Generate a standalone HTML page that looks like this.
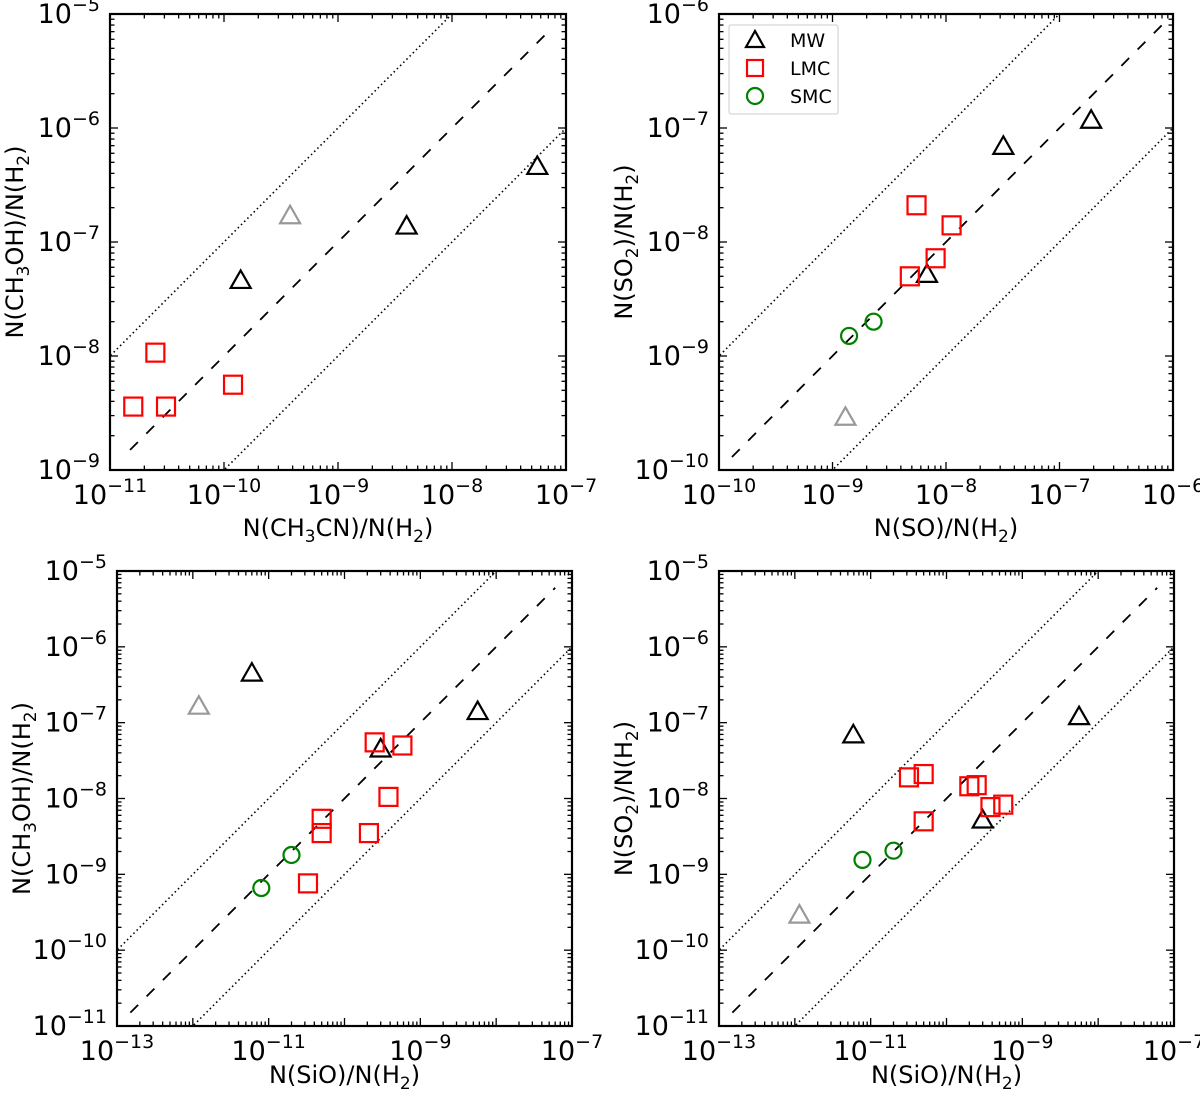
<!DOCTYPE html>
<html><head><meta charset="utf-8">
<style>
html,body{margin:0;padding:0;background:#fff;overflow:hidden;width:1200px;height:1098px;}
svg{display:block;font-family:"DejaVu Sans","Liberation Sans",sans-serif;}
</style></head>
<body>
<svg id="fig" width="1200" height="1098" viewBox="0 0 1200 1098" xmlns="http://www.w3.org/2000/svg" overflow="hidden"></svg>
<script>
// ---- Data arrays ----
// Panel A: CH3CN vs CH3OH
const aMWx=[1.4e-10,4e-9,5.6e-8];
const aMWy=[4.6e-8,1.38e-7,4.6e-7];
const aMWgx=[3.8e-10];
const aMWgy=[1.7e-7];
const aLMCx=[1.6e-11,2.5e-11,3.1e-11,1.2e-10];
const aLMCy=[3.6e-9,1.07e-8,3.6e-9,5.6e-9];
const aSMCx=[];
const aSMCy=[];
// Panel B: SO vs SO2
const bMWx=[6.8e-9,3.2e-8,1.9e-7];
const bMWy=[5.2e-9,6.9e-8,1.17e-7];
const bMWgx=[1.3e-9];
const bMWgy=[2.9e-10];
const bLMCx=[5.5e-9,1.12e-8,8.1e-9,4.8e-9];
const bLMCy=[2.1e-8,1.4e-8,7.2e-9,5e-9];
const bSMCx=[1.4e-9,2.3e-9];
const bSMCy=[1.5e-9,2e-9];
// Panel C: SiO vs CH3OH
const cMWx=[6e-12,3e-10,5.7e-9];
const cMWy=[4.5e-7,4.5e-8,1.4e-7];
const cMWgx=[1.2e-12];
const cMWgy=[1.65e-7];
const cLMCx=[2.5e-10,5.8e-10,5e-11,5e-11,2.1e-10,3.8e-10,3.3e-11];
const cLMCy=[5.5e-8,5e-8,5.4e-9,3.5e-9,3.5e-9,1.05e-8,7.6e-10];
const cSMCx=[8e-12,2e-11];
const cSMCy=[6.6e-10,1.8e-9];
// Panel D: SiO vs SO2
const dMWx=[5.9e-12,3e-10,5.6e-9];
const dMWy=[6.9e-8,5.2e-9,1.2e-7];
const dMWgx=[1.15e-12];
const dMWgy=[2.9e-10];
const dLMCx=[3.2e-11,5e-11,2e-10,2.5e-10,3.8e-10,5.6e-10,5e-11];
const dLMCy=[1.9e-8,2.1e-8,1.45e-8,1.5e-8,7.7e-9,8.3e-9,5e-9];
const dSMCx=[7.8e-12,2e-11];
const dSMCy=[1.55e-9,2.05e-9];
// axis ranges (log10 exponents)
const aXr=[-11,-7], aYr=[-9,-5];
const bXr=[-10,-6], bYr=[-10,-6];
const cXr=[-13,-7], cYr=[-11,-5];
const dXr=[-13,-7], dYr=[-11,-5];
// relation factors: dashed, upper dotted, lower dotted
const aRel=[100,1000,10], bRel=[1,10,0.1], cRel=[100,1000,10], dRel=[100,1000,10];
const aDash=[1.5e-11,6.5e-8], bDash=[1.3e-10,8.5e-7], cDash=[1.5e-13,6e-8], dDash=[1.5e-13,6e-8];

const NS="http://www.w3.org/2000/svg";
const svg=document.getElementById('fig');
function mk(tag,attrs,parent){const e=document.createElementNS(NS,tag);for(const k in attrs)e.setAttribute(k,attrs[k]);(parent||svg).appendChild(e);return e;}

function panel(id,box,xr,yr,xt,ytParts,data,rel,dash,xlabStep,legend){
  const [L,T,R,B]=box;
  const g=mk('g',{});
  
  
  const X=v=>L+(Math.log10(v)-xr[0])/(xr[1]-xr[0])*(R-L);
  const Y=v=>B-(Math.log10(v)-yr[0])/(yr[1]-yr[0])*(B-T);
  const cid='clip-'+id;
  const cp=mk('clipPath',{id:cid},g);mk('rect',{x:L,y:T,width:R-L,height:B-T},cp);
  const lines=mk('g',{'clip-path':'url(#'+cid+')'},g);
  [rel[1],rel[2]].forEach((f,i)=>{
    const x0=Math.pow(10,xr[0]-1),x1=Math.pow(10,xr[1]+1);
    const l=mk('line',{x1:X(x0),y1:Y(x0*f),x2:X(x1),y2:Y(x1*f),stroke:'#000','stroke-width':1.6,'stroke-dasharray':'1.5,3'},lines);
    
    
  });
  const dl=mk('line',{x1:X(dash[0]),y1:Y(dash[0]*rel[0]),x2:X(dash[1]),y2:Y(dash[1]*rel[0]),stroke:'#000','stroke-width':1.8,'stroke-dasharray':'11,12'},lines);
  
  
  const tg=mk('g',{stroke:'#000','stroke-width':1.3},g);
  for(let e=xr[0];e<=xr[1];e++){
    for(let m=1;m<=9;m++){
      const v=m*Math.pow(10,e); if(Math.log10(v)>xr[1]+1e-9)break;
      const x=X(v),len=m==1?8:4.5;
      mk('line',{x1:x,y1:B,x2:x,y2:B-len},tg);mk('line',{x1:x,y1:T,x2:x,y2:T+len},tg);
    }
  }
  for(let e=yr[0];e<=yr[1];e++){
    for(let m=1;m<=9;m++){
      const v=m*Math.pow(10,e); if(Math.log10(v)>yr[1]+1e-9)break;
      const y=Y(v),len=m==1?8:4.5;
      mk('line',{x1:L,y1:y,x2:L+len,y2:y},tg);mk('line',{x1:R,y1:y,x2:R-len,y2:y},tg);
    }
  }
  const fr=mk('rect',{x:L,y:T,width:R-L,height:B-T,fill:'none',stroke:'#000','stroke-width':2.2},g);
  
  
  for(let e=xr[0];e<=xr[1];e+=xlabStep){
    const t=mk('text',{x:X(Math.pow(10,e)),y:B+34,'text-anchor':'middle','font-size':27},g);
    
    
    t.innerHTML='10<tspan dy="-12" font-size="19">\u2212'+(-e)+'</tspan>';
  }
  for(let e=yr[0];e<=yr[1];e+=1){
    const t=mk('text',{x:L-10,y:Y(Math.pow(10,e))+9,'text-anchor':'end','font-size':27},g);
    
    
    t.innerHTML='10<tspan dy="-12" font-size="19">\u2212'+(-e)+'</tspan>';
  }
  const xtEl=mk('text',{x:(L+R)/2,y:Math.min(B+66,1083),'text-anchor':'middle','font-size':24},g);
  
  
  xtEl.innerHTML=xt;
  const ytEl=mk('text',{x:0,y:0,'text-anchor':'middle','font-size':24,transform:'translate('+(L-87)+','+((T+B)/2)+') rotate(-90)'},g);
  
  
  ytEl.innerHTML=ytParts;
  function tri(x,y,col,name){const s=10;const p=mk('polygon',{points:(x)+','+(y-s)+' '+(x-s)+','+(y+s*0.75)+' '+(x+s)+','+(y+s*0.75),fill:'none',stroke:col,'stroke-width':2.2},g);
    
    }
  function sq(x,y,name){const s=9;const p=mk('rect',{x:x-s,y:y-s,width:2*s,height:2*s,fill:'none',stroke:'#ff0000','stroke-width':2.2},g);
    
    }
  function ci(x,y,name){const p=mk('circle',{cx:x,cy:y,r:8,fill:'none',stroke:'#008000','stroke-width':2.2},g);
    
    }
  data.mwgx.forEach((v,i)=>tri(X(v),Y(data.mwgy[i]),'#999','mw-gray-point'));
  data.mwx.forEach((v,i)=>tri(X(v),Y(data.mwy[i]),'#000','mw-point'));
  data.lmcx.forEach((v,i)=>sq(X(v),Y(data.lmcy[i]),'lmc-point'));
  data.smcx.forEach((v,i)=>ci(X(v),Y(data.smcy[i]),'smc-point'));
  if(legend){
    const lg=mk('g',{},g);
    
    
    mk('rect',{x:L+10,y:T+11,width:109,height:89,fill:'#fff',stroke:'#ccc','stroke-width':1,rx:2},lg);
    const rows=[['MW',0],['LMC',1],['SMC',2]];
    rows.forEach(([lab,k])=>{
      const y=T+26+k*28, x=L+36;
      const ent=mk('g',{},lg);
      
      
      if(k==0)mk('polygon',{points:x+','+(y-9)+' '+(x-9)+','+(y+7)+' '+(x+9)+','+(y+7),fill:'none',stroke:'#000','stroke-width':2.2},ent);
      if(k==1)mk('rect',{x:x-8,y:y-8,width:16,height:16,fill:'none',stroke:'#ff0000','stroke-width':2.2},ent);
      if(k==2)mk('circle',{cx:x,cy:y,r:8,fill:'none',stroke:'#008000','stroke-width':2.2},ent);
      const t=mk('text',{x:L+71,y:y+7,'font-size':19},ent);t.textContent=lab;
    });
  }
}
const sub=s=>'<tspan dy="6" font-size="17">'+s+'</tspan><tspan dy="-6">';
panel('panel-ch3cn-ch3oh',[110,14,566,470],aXr,aYr,'N(CH'+sub('3')+'CN)/N(H'+sub('2')+')</tspan>','N(CH'+sub('3')+'OH)/N(H'+sub('2')+')</tspan>',
  {mwx:aMWx,mwy:aMWy,mwgx:aMWgx,mwgy:aMWgy,lmcx:aLMCx,lmcy:aLMCy,smcx:aSMCx,smcy:aSMCy},aRel,aDash,1,false);
panel('panel-so-so2',[719,14,1173,470],bXr,bYr,'N(SO)/N(H'+sub('2')+')</tspan>','N(SO'+sub('2')+')/N(H'+sub('2')+')</tspan>',
  {mwx:bMWx,mwy:bMWy,mwgx:bMWgx,mwgy:bMWgy,lmcx:bLMCx,lmcy:bLMCy,smcx:bSMCx,smcy:bSMCy},bRel,bDash,1,true);
panel('panel-sio-ch3oh',[117,571,572,1026],cXr,cYr,'N(SiO)/N(H'+sub('2')+')</tspan>','N(CH'+sub('3')+'OH)/N(H'+sub('2')+')</tspan>',
  {mwx:cMWx,mwy:cMWy,mwgx:cMWgx,mwgy:cMWgy,lmcx:cLMCx,lmcy:cLMCy,smcx:cSMCx,smcy:cSMCy},cRel,cDash,2,false);
panel('panel-sio-so2',[719,571,1174,1026],dXr,dYr,'N(SiO)/N(H'+sub('2')+')</tspan>','N(SO'+sub('2')+')/N(H'+sub('2')+')</tspan>',
  {mwx:dMWx,mwy:dMWy,mwgx:dMWgx,mwgy:dMWgy,lmcx:dLMCx,lmcy:dLMCy,smcx:dSMCx,smcy:dSMCy},dRel,dDash,2,false);
</script>
</body></html>
